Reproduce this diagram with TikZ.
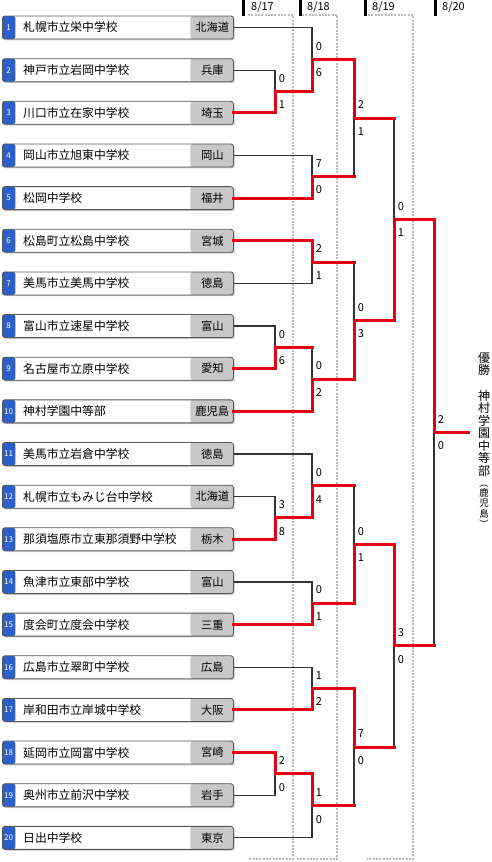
\documentclass[tikz,border=0pt]{standalone}
\usepackage{fontspec}
\setmainfont{Noto Sans CJK JP}
\usepackage{graphicx}
\usepackage{tikz}
\usetikzlibrary{positioning, calc, shadows}

\definecolor{winred}{RGB}{230,0,18}
\definecolor{numblue}{RGB}{45,95,200}
\definecolor{prefgray}{RGB}{200,200,200}
\definecolor{boxline}{RGB}{85,85,85}
\definecolor{framegray}{RGB}{185,185,185}

% fila de cada equipo (en pt, de arriba hacia abajo)
\newcommand{\rowy}[1]{27.5+(#1-1)*42.65}

\begin{document}
\begin{tikzpicture}[
				x=1pt, y=-1pt,
				% --- ESTILOS ---
				teambox/.style={
					draw=boxline, line width=0.8pt, rounded corners=2.5pt, fill=white,
					anchor=west, minimum width=231pt, minimum height=23pt, inner sep=0pt,
					drop shadow={shadow xshift=1.3pt, shadow yshift=-1.3pt, fill=black!45},
					path picture={
						\fill[numblue] (path picture bounding box.south west) rectangle ([xshift=13pt]path picture bounding box.north west);
						\fill[prefgray] ([xshift=-43pt]path picture bounding box.south east) rectangle (path picture bounding box.north east);
					}
				},
				numlbl/.style={text=white, inner sep=0pt, font=\fontsize{8}{8}\selectfont},
				namelbl/.style={anchor=west, inner sep=0pt, font=\fontsize{11.8}{12}\selectfont},
				preflbl/.style={inner sep=0pt, font=\fontsize{11.3}{12}\selectfont},
				bline/.style={draw, line width=1.2pt, color=black!80},
				winline/.style={draw, line width=3pt, color=winred, line cap=rect},
				score/.style={inner sep=0pt, font=\fontsize{11}{11}\selectfont},
				dayframe/.style={draw=framegray, line width=2pt, dash pattern=on 2pt off 1.3pt},
				daylbl/.style={anchor=west, inner sep=0pt, font=\fontsize{11}{11}\selectfont},
				champtxt/.style={align=center, inner sep=0pt, anchor=north, font=\fontsize{12}{12.5}\selectfont},
				champsub/.style={align=center, inner sep=0pt, anchor=north, font=\fontsize{9.5}{10.2}\selectfont}
				]
				\useasboundingbox (0,0) rectangle (492,862);
				
				% --- 1. Cabecera de fechas ---
				\fill (242,0) rectangle (245,16);
				\fill (299,0) rectangle (302,16);
				\fill (364,0) rectangle (367,16);
				\fill (434,0) rectangle (437,16);
				\node [daylbl] (d17) at (251,7) {8/17};
				\node [daylbl] (d18) at (307,7) {8/18};
				\node [daylbl] (d19) at (372,7) {8/19};
				\node [daylbl] (d20) at (442,7) {8/20};
				
				% marcos punteados de cada dia
				\draw [dayframe] (248,15) -- (293,15) -- (293,859) -- (249,859);
				\draw [dayframe] (302,15) -- (337,15) -- (337,859) -- (297,859);
				\draw [dayframe] (368,15) -- (413,15) -- (413,859) -- (367,859);
				
				% --- 2. Equipos ---
				\foreach \i/\school/\pref in {
					1/札幌市立栄中学校/北海道,
					2/神戸市立岩岡中学校/兵庫,
					3/川口市立在家中学校/埼玉,
					4/岡山市立旭東中学校/岡山,
					5/松岡中学校/福井,
					6/松島町立松島中学校/宮城,
					7/美馬市立美馬中学校/徳島,
					8/富山市立速星中学校/富山,
					9/名古屋市立原中学校/愛知,
					10/神村学園中等部/鹿児島,
					11/美馬市立岩倉中学校/徳島,
					12/札幌市立もみじ台中学校/北海道,
					13/那須塩原市立東那須野中学校/栃木,
					14/魚津市立東部中学校/富山,
					15/度会町立度会中学校/三重,
					16/広島市立翠町中学校/広島,
					17/岸和田市立岸城中学校/大阪,
					18/延岡市立岡富中学校/宮崎,
					19/奥州市立前沢中学校/岩手,
					20/日出中学校/東京}
				{
					\node [teambox] (t\i) at (2,{\rowy{\i}}) {};
					\node [numlbl] (n\i) at ([xshift=6.5]t\i.west) {\i};
					\node [namelbl] (s\i) at ([xshift=21]t\i.west) {\school};
					\node [preflbl] (p\i) at ([xshift=-21.5]t\i.east) {\pref};
				}
				
				% --- 3. Puntos de cada partido ---
				% ronda 1 (8/17)
				\coordinate (r1a) at (275,{\rowy{2.5}});
				\coordinate (r1b) at (275,{\rowy{8.5}});
				\coordinate (r1c) at (275,{\rowy{12.5}});
				\coordinate (r1d) at (275,{\rowy{18.5}});
				% ronda 2 (8/18)
				\coordinate (r2a) at (312,{\rowy{1.75}});
				\coordinate (r2b) at (312,{\rowy{4.5}});
				\coordinate (r2c) at (312,{\rowy{6.5}});
				\coordinate (r2d) at (312,{\rowy{9.25}});
				\coordinate (r2e) at (312,{\rowy{11.75}});
				\coordinate (r2f) at (312,{\rowy{14.5}});
				\coordinate (r2g) at (312,{\rowy{16.5}});
				\coordinate (r2h) at (312,{\rowy{19.25}});
				% cuartos (8/18)
				\coordinate (r3a) at (354,{\rowy{3.125}});
				\coordinate (r3b) at (354,{\rowy{7.875}});
				\coordinate (r3c) at (354,{\rowy{13.125}});
				\coordinate (r3d) at (354,{\rowy{17.875}});
				% semifinal (8/19) y final (8/20)
				\coordinate (r4a) at (394,{\rowy{5.5}});
				\coordinate (r4b) at (394,{\rowy{15.5}});
				\coordinate (fin) at (434,{\rowy{10.5}});
				\coordinate (champ) at (468,{\rowy{10.5}});
				
				% --- 4. Lineas del cuadro ---
				\foreach \a/\b in {t1/r2a, t2/r1a, t3/r1a, t4/r2b, t5/r2b, t6/r2c, t7/r2c, t8/r1b, t9/r1b, t10/r2d,
					t11/r2e, t12/r1c, t13/r1c, t14/r2f, t15/r2f, t16/r2g, t17/r2g, t18/r1d, t19/r1d, t20/r2h}
					\draw [bline] (\a.east) -| (\b);
				\foreach \a/\b in {r1a/r2a, r1b/r2d, r1c/r2e, r1d/r2h, r2a/r3a, r2b/r3a, r2c/r3b, r2d/r3b,
					r2e/r3c, r2f/r3c, r2g/r3d, r2h/r3d, r3a/r4a, r3b/r4a, r3c/r4b, r3d/r4b, r4a/fin, r4b/fin}
					\draw [bline] (\a) -| (\b);
				
				% ganadores: en rojo
				\foreach \a/\b in {t3/r1a, t5/r2b, t6/r2c, t9/r1b, t10/r2d, t13/r1c, t15/r2f, t17/r2g, t18/r1d}
					\draw [winline] (\a.east) -| (\b);
				\foreach \a/\b in {r1a/r2a, r1c/r2e, r1d/r2h, r2a/r3a, r2d/r3b, r2f/r3c, r2g/r3d, r3b/r4a, r3c/r4b, r4a/fin}
					\draw [winline] (\a) -| (\b);
				% el que pierde solo lleva la recta en rojo
				\foreach \a/\b in {r1b/r2d, r2b/r3a, r2c/r3b, r2e/r3c, r2h/r3d, r3a/r4a, r3d/r4b, r4b/fin}
					\draw [winline] (\a) -- (\a -| \b);
				\draw [winline] (fin) -- (champ);
				
				% --- 5. Marcadores ---
				\foreach \m/\sa/\sb in {r1a/0/1, r1b/0/6, r1c/3/8, r1d/2/0,
					r2a/0/6, r2b/7/0, r2c/2/1, r2d/0/2, r2e/0/4, r2f/0/1, r2g/1/2, r2h/1/0,
					r3a/2/1, r3b/0/3, r3c/0/1, r3d/7/0, r4a/0/1, r4b/3/0, fin/2/0}
				{
					\node [score] (\m-hi) at ([xshift=7, yshift=13.3]\m) {\sa};
					\node [score] (\m-lo) at ([xshift=7, yshift=-13.3]\m) {\sb};
				}
				
				% --- 6. Campeon ---
				\node [champtxt] (yusho) at (484,352) {優\\勝};
				\node [champtxt] (champname) at (484,390) {神\\村\\学\\園\\中\\等\\部};
				\node [champsub] (champpref) at (484,478) {\rotatebox[origin=c]{-90}{（}\\鹿\\児\\島\\\rotatebox[origin=c]{-90}{）}};
				
			\end{tikzpicture}
\end{document}
